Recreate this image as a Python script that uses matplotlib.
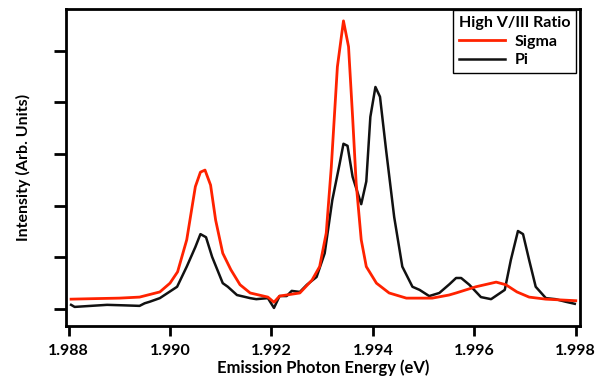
import matplotlib
matplotlib.use("Agg")
import matplotlib.pyplot as plt

plt.rcParams['font.family'] = ['Lato', 'DejaVu Sans']
plt.rcParams['font.weight'] = 'bold'

sigma_x = [1.98805, 1.9885, 1.9890, 1.9894, 1.9896, 1.9898, 1.9900, 1.99015, 1.99033, 1.9905, 1.9906, 1.99069,
           1.9908, 1.9909, 1.99104, 1.9912, 1.99138, 1.99158, 1.99193, 1.99205, 1.99216,
           1.99256, 1.9928, 1.99295, 1.99308, 1.99318, 1.9933, 1.99342, 1.99352, 1.9936,
           1.99367, 1.99377, 1.99387, 1.99407, 1.99432, 1.99466, 1.99517, 1.9955, 1.99564,
           1.99603, 1.99643, 1.99662, 1.99684, 1.99708, 1.99741, 1.99800]
sigma_y = [0.19, 0.20, 0.21, 0.23, 0.28, 0.33, 0.50, 0.72, 1.34, 2.37, 2.65, 2.69,
           2.40, 1.72, 1.08, 0.76, 0.47, 0.31, 0.23, 0.13, 0.25,
           0.31, 0.56, 0.82, 1.47, 2.75, 4.69, 5.58, 5.08, 3.72,
           2.44, 1.34, 0.82, 0.50, 0.31, 0.21, 0.21, 0.27, 0.31,
           0.43, 0.52, 0.47, 0.33, 0.23, 0.19, 0.16]

pi_x = [1.98805, 1.98812, 1.98876, 1.9891, 1.9894, 1.9895, 1.9896, 1.9898, 1.99014, 1.99033, 1.9905, 1.9906,
        1.99071, 1.99083, 1.99104, 1.99114, 1.99132, 1.99158, 1.9917, 1.99193, 1.99205,
        1.99216, 1.9923, 1.9924, 1.99256, 1.9927, 1.99289, 1.99305, 1.9932, 1.99334,
        1.99342, 1.9935, 1.9936, 1.99377, 1.99387, 1.99395, 1.99405, 1.99414, 1.99426,
        1.99442, 1.99458, 1.99478, 1.99492, 1.99511, 1.99531, 1.99551, 1.99564, 1.99574,
        1.9959, 1.99613, 1.99633, 1.9966, 1.99672, 1.99686, 1.99696, 1.99708, 1.99721,
        1.99741, 1.9976, 1.9978, 1.99798]
pi_y = [0.08, 0.04, 0.08, 0.07, 0.06, 0.11, 0.14, 0.21, 0.43, 0.82, 1.20, 1.45,
        1.39, 1.01, 0.50, 0.43, 0.27, 0.21, 0.19, 0.21, 0.02,
        0.25, 0.25, 0.35, 0.33, 0.47, 0.62, 1.08, 2.11, 2.79,
        3.20, 3.16, 2.56, 2.03, 2.47, 3.72, 4.30, 4.11, 3.08,
        1.78, 0.82, 0.43, 0.37, 0.25, 0.31, 0.48, 0.60, 0.60,
        0.47, 0.23, 0.19, 0.37, 0.95, 1.51, 1.45, 0.95, 0.43,
        0.21, 0.19, 0.14, 0.10]

x_ticks = [1.988, 1.990, 1.992, 1.994, 1.996, 1.998]
x_tick_labels = ['1.988', '1.990', '1.992', '1.994', '1.996', '1.998']
y_ticks = [0, 1, 2, 3, 4, 5]

fig = plt.figure(figsize=(6.04, 3.83), dpi=100)
ax = fig.add_axes([0.1093, 0.1488, 0.8507, 0.8277])

ax.plot(sigma_x, sigma_y, color='#ff2200', lw=2.0, label='Sigma', zorder=3)
ax.plot(pi_x, pi_y, color='#111111', lw=1.8, label='Pi', zorder=2)

ax.set_xlim(1.98795, 1.99808)
ax.set_ylim(-0.33, 5.81)
ax.set_xticks(x_ticks)
ax.set_xticklabels(x_tick_labels, fontsize=11.5, fontweight='bold')
ax.set_yticks(y_ticks)
ax.set_yticklabels([])
ax.tick_params(axis='x', direction='out', length=7, width=2, pad=6)
ax.tick_params(axis='y', direction='out', length=9, width=2)
for s in ax.spines.values():
    s.set_linewidth(2)
    s.set_color('black')

ax.set_xlabel('Emission Photon Energy (eV)', fontsize=12, fontweight='bold', labelpad=1)
ax.set_ylabel('Intensity (Arb. Units)', fontsize=11.5, fontweight='bold', labelpad=13)

leg = ax.legend(title='High V/III Ratio', loc='upper right', bbox_to_anchor=(0.992, 0.997),
                fontsize=11.5,
                title_fontproperties={'weight': 'bold', 'size': 11.5},
                frameon=True, fancybox=False, borderpad=0.35, handlelength=2.9,
                handletextpad=0.6, labelspacing=0.3, borderaxespad=0.0)
leg.get_frame().set_edgecolor('black')
leg.get_frame().set_linewidth(1.0)
leg.get_frame().set_alpha(1)
for t in leg.get_texts():
    t.set_fontweight('bold')
leg._legend_box.align = 'left'

fig.savefig('out.png', dpi=100)
